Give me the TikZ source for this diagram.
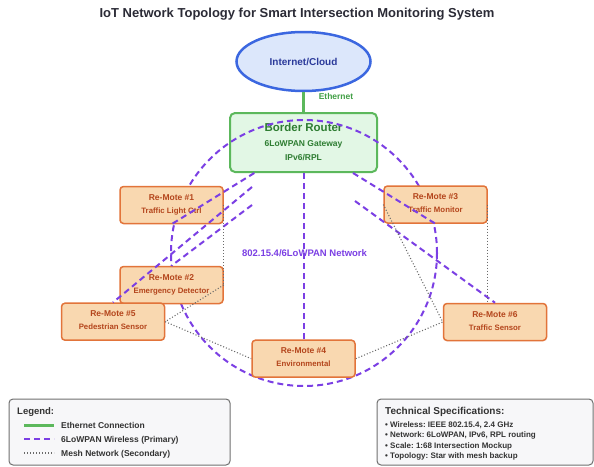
\documentclass[tikz,border=0pt]{standalone}
\usepackage{fontspec}
\setmainfont{Liberation Sans}
\usetikzlibrary{calc,shapes.geometric}
\definecolor{purp}{HTML}{7B3FE4}
\definecolor{grn}{HTML}{5CB85C}
\definecolor{grnlbl}{HTML}{43A047}
\definecolor{grntxt}{HTML}{2E7D32}
\definecolor{brfill}{HTML}{E2F7E5}
\definecolor{cloudfill}{HTML}{DCE7FB}
\definecolor{cloudline}{HTML}{3B67E0}
\definecolor{cloudtxt}{HTML}{2B3A9A}
\definecolor{rmfill}{HTML}{F9D8B0}
\definecolor{rmline}{HTML}{E2743A}
\definecolor{rmtxt}{HTML}{B4451C}
\definecolor{meshc}{HTML}{6A6A6A}
\definecolor{titlec}{HTML}{2B2B36}
\definecolor{legfill}{HTML}{F7F7F9}
\definecolor{legline}{HTML}{707070}
\definecolor{legtxt}{HTML}{333333}
\frenchspacing
\newcommand\rmote[5]{%
  \node[remote] (#1) at (#2,#3) {};
  \node[rmname] (#1t) at (#2,#3-5) {#4};
  \node[rmdesc] (#1d) at (#2,#3+8) {#5};
}
\begin{document}
\begin{tikzpicture}[x=1pt,y=-1pt,
  remote/.style={draw=rmline, fill=rmfill, line width=1.5pt, rounded corners=3.5pt,
    minimum width=103pt, minimum height=37pt, inner sep=0pt},
  rmname/.style={text=rmtxt, font=\fontsize{8.5}{10}\selectfont\bfseries, anchor=base, inner sep=0pt},
  rmdesc/.style={text=rmtxt, font=\fontsize{7.8}{9}\selectfont\bfseries, anchor=base, inner sep=0pt},
  wireless/.style={draw=purp, line width=2pt, dash pattern=on 6pt off 4pt},
  mesh/.style={draw=meshc, line width=1.1pt, dash pattern=on 1pt off 2pt},
  ethernet/.style={draw=grn, line width=3pt},
  brtext/.style={text=grntxt, anchor=base, inner sep=0pt},
  panel/.style={draw=legline, fill=legfill, line width=1pt, rounded corners=4pt, inner sep=0pt},
  legtext/.style={text=legtxt, anchor=base west, inner sep=0pt, font=\fontsize{8.5}{10}\selectfont\bfseries},
  spectext/.style={text=legtxt, anchor=base west, inner sep=0pt, font=\fontsize{8}{10}\selectfont\bfseries}
]
\useasboundingbox (0,0) rectangle (594,466);
\fill[white] (0,0) rectangle (594,466);

% title
\node[font=\fontsize{13}{15}\selectfont\bfseries, text=titlec] (title) at (297,14)
  {IoT Network Topology for Smart Intersection Monitoring System};

% cloud
\node[ellipse, draw=cloudline, fill=cloudfill, line width=2.5pt, minimum width=134pt,
  minimum height=59pt, inner sep=0pt, text=cloudtxt, font=\fontsize{10}{12}\selectfont\bfseries]
  (cloud) at (303.5,61.5) {Internet/Cloud};

% border router
\node[draw=grn, fill=brfill, line width=2pt, rounded corners=5pt, minimum width=147pt,
  minimum height=59pt, inner sep=0pt] (br) at (303.5,142.5) {};
\node[brtext, font=\fontsize{11.5}{13}\selectfont\bfseries] (brt1) at (303.5,131) {Border Router};
\node[brtext, font=\fontsize{8.5}{10}\selectfont\bfseries] (brt2) at (303.5,146) {6LoWPAN Gateway};
\node[brtext, font=\fontsize{8.5}{10}\selectfont\bfseries] (brt3) at (303.5,160.5) {IPv6/RPL};

\draw[ethernet] (cloud) -- (br);
\node[text=grnlbl, font=\fontsize{8.5}{10}\selectfont\bfseries] (ethl) at (336,96) {Ethernet};

% network circle
\coordinate (ccen) at (304,253);
\draw[wireless] (ccen) circle[radius=133pt];

% remotes
\rmote{r1}{171.5}{205}{Re-Mote \#1}{Traffic Light Ctrl}
\rmote{r3}{435.5}{204.5}{Re-Mote \#3}{Traffic Monitor}
\rmote{r2}{171.5}{285}{Re-Mote \#2}{Emergency Detector}
\rmote{r5}{113}{321.7}{Re-Mote \#5}{Pedestrian Sensor}
\rmote{r6}{495}{322}{Re-Mote \#6}{Traffic Sensor}
\rmote{r4}{303.5}{358.7}{Re-Mote \#4}{Environmental}

% wireless links
\coordinate (b0) at (252,187);
\coordinate (c0) at (252,205);
\coordinate (e0) at (355,201);
\draw[wireless] (br) -- (r1.south);
\draw[wireless] (br) -- (r3.south);
\draw[wireless] (b0) -- (r5.north);
\draw[wireless] (c0) -- (r2.north);
\draw[wireless] (e0) -- (r6.north);
\draw[wireless] (br) -- (r4);

% mesh links
\draw[mesh] (r1.east) -- (r2.east);
\draw[mesh] (r2.east) -- (r5.east);
\draw[mesh] (r5.east) -- (r4.west);
\draw[mesh] (r4.east) -- (r6.west);
\draw[mesh] (r3.west) -- (r6.west);
\draw[mesh] (r3.east) -- (r3.east |- r6.north);

\node[text=purp, font=\fontsize{9.5}{11}\selectfont\bfseries] (netl) at (304.5,253.5)
  {802.15.4/6LoWPAN Network};

% legend
\node[panel, minimum width=221pt, minimum height=66pt] (legend) at (119.5,432) {};
\node[text=legtxt, anchor=base west, inner sep=0pt, font=\fontsize{9.5}{11}\selectfont\bfseries]
  (legt) at (17,414.5) {Legend:};
\coordinate (l1a) at (24,425); \coordinate (l1b) at (54,425);
\coordinate (l2a) at (24,439); \coordinate (l2b) at (54,439);
\coordinate (l3a) at (24,453); \coordinate (l3b) at (54,453);
\draw[ethernet] (l1a) -- (l1b);
\draw[wireless] (l2a) -- (l2b);
\draw[mesh] (l3a) -- (l3b);
\node[legtext] (lg1) at (61,428) {Ethernet Connection};
\node[legtext] (lg2) at (61,442) {6LoWPAN Wireless (Primary)};
\node[legtext] (lg3) at (61,456) {Mesh Network (Secondary)};

% specs
\node[panel, minimum width=216pt, minimum height=66pt] (specs) at (485,432) {};
\node[text=legtxt, anchor=base west, inner sep=0pt, font=\fontsize{10}{12}\selectfont\bfseries]
  (spt) at (385,414.5) {Technical Specifications:};
\node[spectext] (sp1) at (385,427) {• Wireless: IEEE 802.15.4, 2.4 GHz};
\node[spectext] (sp2) at (385,437.5) {• Network: 6LoWPAN, IPv6, RPL routing};
\node[spectext] (sp3) at (385,448) {• Scale: 1:68 Intersection Mockup};
\node[spectext] (sp4) at (385,458.5) {• Topology: Star with mesh backup};
\end{tikzpicture}
\end{document}
